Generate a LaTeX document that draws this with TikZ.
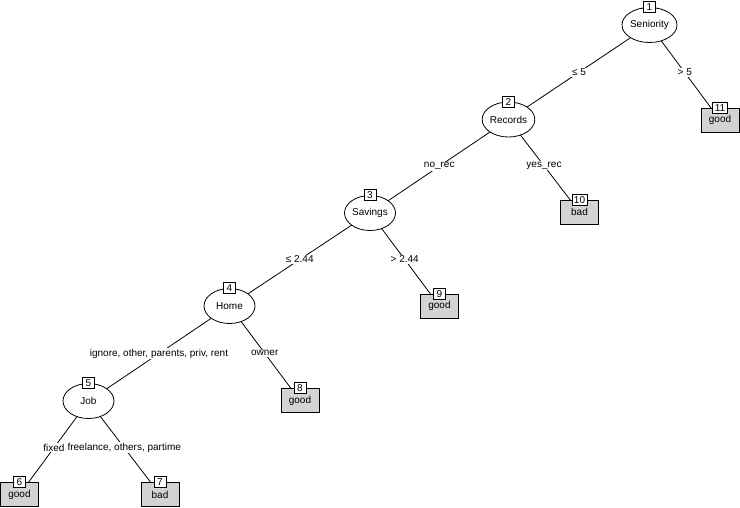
\documentclass[tikz,border=0pt]{standalone}
\usepackage{fontspec}
\setmainfont{Liberation Sans}
\usetikzlibrary{shapes.geometric}
\definecolor{termgray}{RGB}{211,211,211}
\pgfdeclarelayer{bg}
\pgfsetlayers{bg,main}
\begin{document}
\begin{tikzpicture}[x=1pt,y=-1pt,font=\fontsize{10}{12}\selectfont,
  innernode/.style={ellipse,draw,fill=white,minimum width=51pt,minimum height=35pt,inner sep=0pt,line width=0.8pt},
  termnode/.style={rectangle,draw,fill=termgray,minimum width=38pt,minimum height=24pt,inner sep=0pt,line width=0.8pt},
  idbox/.style={rectangle,draw,fill=white,minimum width=12pt,minimum height=11pt,inner xsep=2pt,inner ysep=0.5pt,line width=0.7pt},
  elabel/.style={fill=white,inner sep=1pt},
  edgeline/.style={draw,line width=0.8pt}]
\useasboundingbox (0,0) rectangle (740,507);
% inner nodes
\node[innernode] (n1) at (649.5,25) {Seniority};
\node[innernode] (n2) at (508.5,119.5) {Records};
\node[innernode] (n3) at (370,213) {Savings};
\node[innernode] (n4) at (229.5,306) {Home};
\node[innernode] (n5) at (88.5,401) {Job};
% terminal nodes
\node[termnode] (n11) at (720,120) {good};
\node[termnode] (n10) at (579.5,212) {bad};
\node[termnode] (n9) at (439.5,306) {good};
\node[termnode] (n8) at (300,400.5) {good};
\node[termnode] (n6) at (19.5,494.5) {good};
\node[termnode] (n7) at (160,494.5) {bad};
% id labels
\node[idbox] (i1) at (n1.north) {1};
\node[idbox] (i2) at (n2.north) {2};
\node[idbox] (i3) at (n3.north) {3};
\node[idbox] (i4) at (n4.north) {4};
\node[idbox] (i5) at (n5.north) {5};
\node[idbox] (i6) at (n6.north) {6};
\node[idbox] (i7) at (n7.north) {7};
\node[idbox] (i8) at (n8.north) {8};
\node[idbox] (i9) at (n9.north) {9};
\node[idbox] (i10) at (n10.north) {10};
\node[idbox] (i11) at (n11.north) {11};
% edges
\begin{pgfonlayer}{bg}
\draw[edgeline] (n1.center) -- node[elabel] (e12) {≤ 5} (n2.center);
\draw[edgeline] (n1.center) -- node[elabel] (e111) {> 5} (n11.center);
\draw[edgeline] (n2.center) -- node[elabel] (e23) {no\_rec} (n3.center);
\draw[edgeline] (n2.center) -- node[elabel] (e210) {yes\_rec} (n10.center);
\draw[edgeline] (n3.center) -- node[elabel] (e34) {≤ 2.44} (n4.center);
\draw[edgeline] (n3.center) -- node[elabel] (e39) {> 2.44} (n9.center);
\draw[edgeline] (n4.center) -- node[elabel] (e45) {ignore, other, parents, priv, rent} (n5.center);
\draw[edgeline] (n4.center) -- node[elabel] (e48) {owner} (n8.center);
\draw[edgeline] (n5.center) -- node[elabel] (e56) {fixed} (n6.center);
\draw[edgeline] (n5.center) -- node[elabel] (e57) {freelance, others, partime} (n7.center);
\end{pgfonlayer}
\end{tikzpicture}
\end{document}
